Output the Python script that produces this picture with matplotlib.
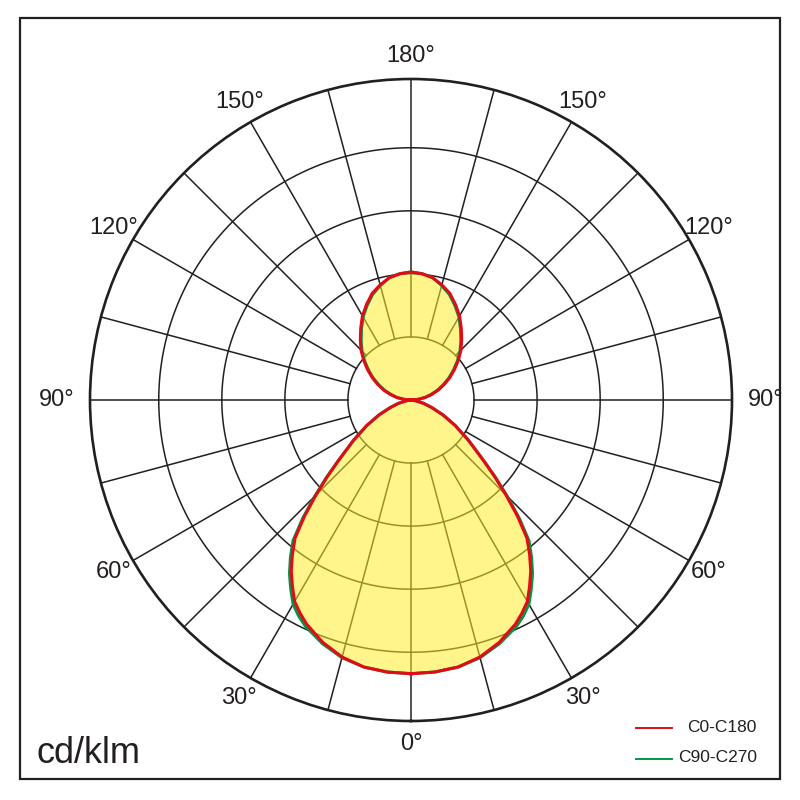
import numpy as np
import matplotlib
matplotlib.use("Agg")
import matplotlib.pyplot as plt
from matplotlib.lines import Line2D
from matplotlib.patches import Rectangle

# ---- data (cd/klm) ----
gamma = [0, 5, 10, 15, 20, 25, 27.5, 30, 32.5, 35, 37.5, 40, 42.5, 45, 47.5, 50, 52.5, 55,
         60, 65, 70, 75, 80, 85, 90, 95, 100, 105, 110, 115, 120, 125, 130, 135, 140, 145,
         150, 155, 160, 165, 170, 175, 180]  # vertical angle, 0 = down, 180 = up
c0_c180 = [434, 433, 430, 422, 409, 392, 381, 369, 350, 331, 309, 286, 250, 213, 180, 151, 128, 111,
           81, 56, 35, 21, 8, 2, 0, 11, 23, 34, 46, 58, 71, 84, 98, 112, 125, 139,
           154, 167, 180, 189, 197, 201, 203]
c90_c270 = [434, 433, 430, 423, 411, 396, 386, 374, 355, 336, 314, 291, 254, 216, 182, 152, 128, 111,
            81, 56, 35, 21, 8, 2, 0, 11, 22, 32, 44, 56, 69, 82, 96, 110, 123, 137,
            152, 165, 178, 188, 197, 201, 203]
ring_values = [100, 200, 300, 400]
r_max = 509
angle_labels = [0, 30, 60, 90, 120, 150, 180]
series_names = ["C0-C180", "C90-C270"]

INK = "#231F20"
RED = "#E30B17"
GREEN = "#009846"
FONT = "Liberation Sans"

def full_curve(vals):
    g = np.array(gamma, dtype=float)
    v = np.array(vals, dtype=float)
    th = np.concatenate([g, 360 - g[::-1][1:]])
    rr = np.concatenate([v, v[::-1][1:]])
    return np.deg2rad(th), rr

fig = plt.figure(figsize=(8, 8), dpi=100)
ax = fig.add_axes([0.1125, 0.09875, 0.8025, 0.8025], projection="polar")
ax.set_theta_zero_location("S")
ax.set_ylim(0, r_max)
ax.grid(False)
ax.set_xticks([])
ax.set_yticks([])
ax.spines["polar"].set_color(INK)
ax.spines["polar"].set_linewidth(1.9)

# grid
tfull = np.linspace(0, 2 * np.pi, 721)
for rv in ring_values:
    ax.plot(tfull, np.full_like(tfull, rv), color=INK, lw=1.1, zorder=1)
for a in range(0, 360, 15):
    t = np.deg2rad(a)
    ax.plot([t, t], [ring_values[0], r_max], color=INK, lw=1.1, zorder=1)

th_r, r_r = full_curve(c0_c180)
th_g, r_g = full_curve(c90_c270)
r_fill = np.maximum(r_r, r_g)
ax.fill(th_r, r_fill, color="#FFEE2D", alpha=0.55, lw=0, zorder=2)
ax.plot(th_g, r_g, color=GREEN, lw=2.2, zorder=3)
ax.plot(th_r, r_r, color=RED, lw=2.2, zorder=4)

# angle labels
for a in angle_labels:
    sides = [a] if a in (0, 180) else [a, 360 - a]
    for s in sides:
        rl = 562 if a == 90 else 545
        ax.text(np.deg2rad(s), rl, f"{a}°", ha="center", va="center",
                fontsize=17, family=FONT, color=INK, clip_on=False)

# frame
fig.patches.append(Rectangle((0.025, 0.02625), 0.95, 0.95125, transform=fig.transFigure,
                             fill=False, edgecolor=INK, lw=1.6))

fig.text(36 / 800, 1 - 763 / 800, "cd/klm", fontsize=26, family=FONT, color=INK,
         ha="left", va="baseline")

# legend
for name, col, y in zip(series_names, [RED, GREEN], [728, 759]):
    fig.lines.append(Line2D([636 / 800, 672 / 800], [1 - y / 800, 1 - y / 800],
                            transform=fig.transFigure, color=col, lw=1.4))
    fig.text(757 / 800, 1 - (y - 1) / 800, name, fontsize=12.5, family=FONT, color=INK,
             ha="right", va="center")

fig.savefig("out.png", dpi=100, facecolor="white")
